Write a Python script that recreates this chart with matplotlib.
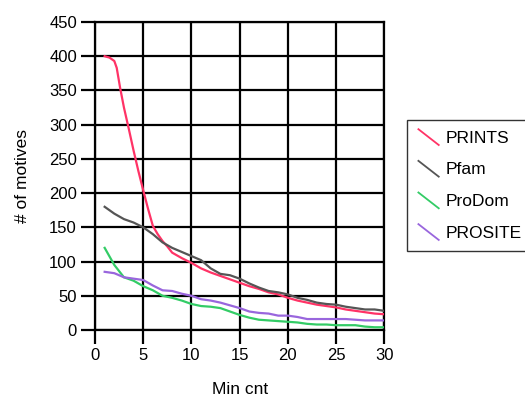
import matplotlib
matplotlib.use("Agg")
import matplotlib.pyplot as plt
from matplotlib.legend_handler import HandlerBase
from matplotlib.lines import Line2D

plt.rcParams['font.family'] = ['Liberation Sans', 'DejaVu Sans']

min_cnt = list(range(1, 31))
prints_x = [1, 1.5, 2, 2.25, 2.6, 3, 3.5, 4, 4.5, 5, 5.5, 6, 6.5, 7, 7.5, 8,
            9, 10, 11, 12, 13, 14, 15, 16, 17, 18, 19, 20, 21, 22, 23, 24, 25,
            26, 27, 28, 29, 30]
prints = [400, 398, 393, 383, 354, 325, 294, 262, 232, 204, 177, 152, 140, 130,
          122, 113, 105, 98, 90, 84, 79, 74, 69, 64, 60, 55, 52, 47, 43, 40,
          37, 35, 33, 30, 28, 26, 24, 23]
pfam = [180, 170, 162, 157, 150, 140, 128, 120, 114, 108, 102, 90, 82, 80, 75,
        68, 62, 57, 55, 52, 47, 44, 40, 38, 37, 34, 32, 30, 30, 28]
prodom = [120, 95, 77, 72, 64, 58, 50, 47, 43, 38, 35, 34, 32, 27, 22,
          18, 15, 14, 13, 12, 11, 9, 8, 8, 7, 7, 7, 5, 4, 4]
prosite = [85, 83, 77, 75, 73, 65, 58, 57, 53, 50, 45, 43, 40, 36, 32,
           27, 25, 24, 21, 21, 19, 16, 16, 16, 16, 16, 15, 14, 14, 14]

series_names = ["PRINTS", "Pfam", "ProDom", "PROSITE"]
series_x = [prints_x, min_cnt, min_cnt, min_cnt]
series_vals = [prints, pfam, prodom, prosite]
colors = ["#ff3366", "#555555", "#33cc66", "#9966dd"]

x_ticks = [0, 5, 10, 15, 20, 25, 30]
y_ticks = [0, 50, 100, 150, 200, 250, 300, 350, 400, 450]


class DiagHandler(HandlerBase):
    def create_artists(self, legend, orig_handle, xdescent, ydescent, width,
                       height, fontsize, trans):
        l = Line2D([-xdescent + width * 0.05, -xdescent + width * 0.95],
                   [-ydescent + height * 1.1, -ydescent - height * 0.2],
                   color=orig_handle.get_color(), lw=1.3, transform=trans)
        return [l]


fig = plt.figure(figsize=(5.25, 4.0), dpi=100)
ax = fig.add_axes([0.181, 0.175, 0.551, 0.77])

handles = []
for name, xs, vals, c in zip(series_names, series_x, series_vals, colors):
    h, = ax.plot(xs, vals, color=c, lw=1.6, label=name, zorder=3)
    handles.append(h)

ax.set_xlim(0, 30)
ax.set_ylim(0, 450)
ax.set_xticks(x_ticks)
ax.set_yticks(y_ticks)
ax.grid(True, color='black', lw=1.6, zorder=1)
ax.set_axisbelow(True)
for s in ax.spines.values():
    s.set_linewidth(1.6)
    s.set_color('black')
ax.tick_params(direction='out', length=10, width=1.6, labelsize=12, pad=3)

ax.set_xlabel("Min cnt", fontsize=12.5, labelpad=14)
ax.set_ylabel("# of motives", fontsize=12.5, labelpad=14)

leg = fig.legend(handles=handles, labels=series_names,
                 handler_map={Line2D: DiagHandler()},
                 loc='upper left', bbox_to_anchor=(0.775, 0.70),
                 frameon=True, fancybox=False, edgecolor='black',
                 fontsize=12.5, handlelength=1.3, handletextpad=0.35,
                 labelspacing=0.95, borderpad=0.6, borderaxespad=0)
leg.get_frame().set_linewidth(1.0)

fig.savefig("out.png", dpi=100)
